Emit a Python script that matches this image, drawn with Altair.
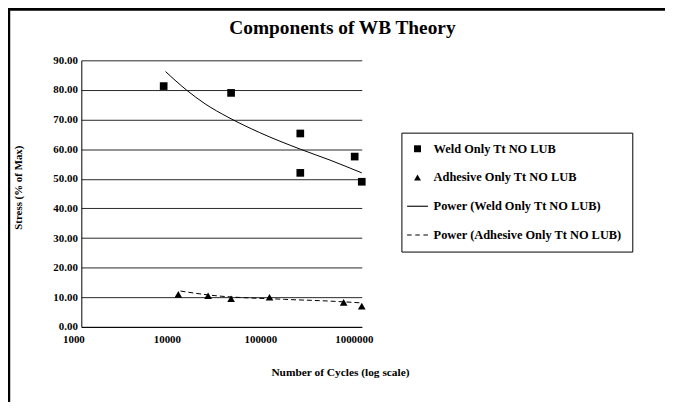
import altair as alt
import pandas as pd

# ---- data ----
weld_cycles = [7600, 40000, 220000, 220000, 840000, 1000000]
weld_stress = [81.3, 79.0, 65.3, 52.0, 57.5, 49.0]

adh_cycles = [10900, 22700, 40000, 103000, 640000, 1000000]
adh_stress = [11.0, 10.5, 9.5, 10.0, 8.3, 7.0]

weld_fit_cycles = [7960, 13300, 21100, 37100, 80900, 220000, 458000, 1000000]
weld_fit_stress = [86.2, 80.0, 75.3, 70.8, 65.6, 60.0, 56.3, 52.0]

adh_fit_cycles = [11500, 22700, 149000, 458000, 1000000]
adh_fit_stress = [12.1, 10.8, 9.3, 8.7, 8.1]

series_names = [
    "Weld Only Tt NO LUB",
    "Adhesive Only Tt NO LUB",
    "Power (Weld Only Tt NO LUB)",
    "Power (Adhesive Only Tt NO LUB)",
]
x_ticks = [1000, 10000, 100000, 1000000]
y_ticks = [0, 10, 20, 30, 40, 50, 60, 70, 80, 90]

FONT = "Liberation Serif"

points_df = pd.DataFrame({
    "cycles": weld_cycles + adh_cycles,
    "stress": weld_stress + adh_stress,
    "series": [series_names[0]] * len(weld_cycles) + [series_names[1]] * len(adh_cycles),
})
weld_fit_df = pd.DataFrame({"cycles": weld_fit_cycles, "stress": weld_fit_stress})
adh_fit_df = pd.DataFrame({"cycles": adh_fit_cycles, "stress": adh_fit_stress})

xscale = alt.Scale(type="log", domain=[1000, 1000000])
yscale = alt.Scale(domain=[0, 90], nice=False, zero=True)

x_axis = alt.Axis(
    values=x_ticks, format="d", labelFlush=False, ticks=False, grid=False,
    labelOverlap=False, labelOffset=-8,
    domainColor="black", labelColor="black", labelFont=FONT, labelFontSize=11,
    labelFontWeight="bold", labelPadding=7,
    title="Number of Cycles (log scale)", titleX=261, titleY=46,
    titleAlign="center", titleBaseline="middle", titleFont=FONT,
    titleFontSize=11.5, titleFontWeight="bold", titleColor="black",
)
y_axis = alt.Axis(
    values=y_ticks, format=".2f", ticks=False, grid=True, gridColor="black",
    labelOverlap=False,
    gridOpacity=0.85, gridWidth=1, domainColor="black", labelColor="black",
    labelFont=FONT, labelFontSize=11, labelFontWeight="bold", labelPadding=4,
    title="Stress (% of Max)", titleX=-63, titleY=128, titleAngle=-90,
    titleAlign="center", titleBaseline="middle", titleFont=FONT,
    titleFontSize=11, titleFontWeight="bold", titleColor="black",
)

solid_path = "M-3,-0.16H3V0.16H-3Z"
dash_path = "M-3,-0.16H-1.7V0.16H-3ZM-0.65,-0.16H0.65V0.16H-0.65ZM1.7,-0.16H3V0.16H1.7Z"

shape_scale = alt.Scale(
    domain=series_names,
    range=["square", "triangle-up", solid_path, dash_path],
)

legend = alt.Legend(
    title=None, orient="none", legendX=323, legendY=73, strokeColor="black",
    fillColor="white", padding=10, rowPadding=16, labelFont=FONT,
    labelFontSize=12.5, labelFontWeight="bold", labelColor="black",
    labelOffset=10, symbolSize=49, symbolFillColor="black",
    symbolStrokeColor="black", symbolStrokeWidth=0, labelLimit=400,
)

X = alt.X("cycles:Q", scale=xscale, axis=x_axis)
Y = alt.Y("stress:Q", scale=yscale, axis=y_axis)

frame_df = pd.DataFrame({"k": [0]})
frame_top = alt.Chart(frame_df).mark_rule(color="black", strokeWidth=3).encode(
    x=alt.value(-74), x2=alt.value(591), y=alt.value(-51.5)
)
frame_left = alt.Chart(frame_df).mark_rule(color="black", strokeWidth=2.5).encode(
    x=alt.value(-73), y=alt.value(-53), y2=alt.value(353)
)

points = alt.Chart(points_df).mark_point(filled=True, color="black", opacity=1).encode(
    x=X, y=Y,
    shape=alt.Shape("series:N", scale=shape_scale, legend=legend),
    size=alt.value(60),
)

weld_line = alt.Chart(weld_fit_df).mark_line(
    color="black", strokeWidth=1, interpolate="monotone"
).encode(x=X, y=Y)

adh_line = alt.Chart(adh_fit_df).mark_line(
    color="black", strokeWidth=1, strokeDash=[5, 3], interpolate="monotone"
).encode(x=X, y=Y)

chart = alt.layer(frame_top, frame_left, points, weld_line, adh_line).properties(
    width=283,
    height=269,
    autosize=alt.AutoSizeParams(type="none"),
    padding={"left": 74, "top": 51, "right": 306, "bottom": 74},
    title=alt.TitleParams(
        "Components of WB Theory", anchor="middle", frame="group", dx=122,
        dy=50, offset=18, font=FONT, fontSize=19.5, fontWeight="bold", color="black",
    ),
    background="white",
).configure_view(stroke=None)

chart.save("out.html", embed_options={"renderer": "svg", "actions": False})
